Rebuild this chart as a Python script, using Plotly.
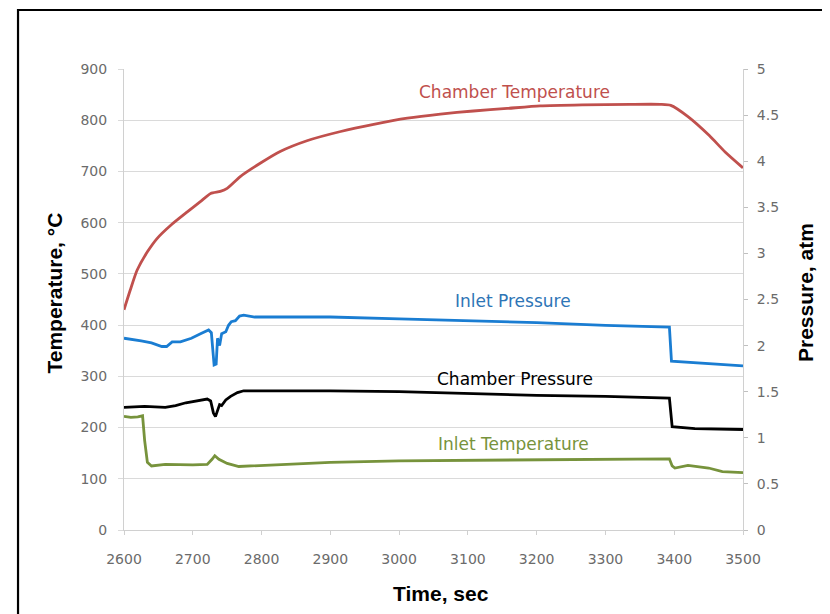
import plotly.graph_objects as go

# ---- data ----
ct_time = [2600, 2609, 2619, 2634, 2648, 2668, 2692, 2711, 2726, 2740, 2750, 2769, 2798,
           2827, 2866, 2915, 2963, 3012, 3060, 3108, 3157, 3205, 3266, 3336, 3380,
           3395, 3420, 3451, 3474, 3500]
ct_temp = [430, 468, 507, 543, 569, 595, 621, 641, 657, 661, 667, 690, 716,
           739, 760, 778, 792, 804, 812, 818, 823, 828, 830, 831, 831,
           829, 807, 770, 738, 707]

ip_time = [2600, 2610, 2625, 2640, 2655, 2662, 2670, 2682, 2698, 2712, 2723, 2727, 2729,
           2731, 2734, 2736, 2739, 2742, 2748, 2752, 2756, 2762, 2768, 2774, 2790, 2900,
           3000, 3100, 3200, 3300, 3393, 3396, 3420, 3460, 3500]
ip_pres = [2.08, 2.07, 2.05, 2.03, 1.99, 1.99, 2.04, 2.04, 2.08, 2.13, 2.17, 2.14, 1.95,
           1.79, 1.80, 2.08, 2.00, 2.13, 2.15, 2.22, 2.26, 2.27, 2.32, 2.33, 2.31, 2.31,
           2.29, 2.27, 2.25, 2.22, 2.20, 1.83, 1.82, 1.80, 1.78]

cp_time = [2600, 2630, 2660, 2675, 2690, 2705, 2721, 2726, 2730, 2733, 2736, 2739, 2742,
           2748, 2755, 2765, 2774, 2900, 3000, 3100, 3200, 3300, 3393, 3397, 3430, 3500]
cp_pres = [1.33, 1.34, 1.33, 1.35, 1.38, 1.40, 1.42, 1.40, 1.27, 1.23, 1.30, 1.36, 1.35,
           1.41, 1.45, 1.49, 1.51, 1.51, 1.50, 1.48, 1.46, 1.45, 1.43, 1.12, 1.10, 1.09]

it_time = [2600, 2610, 2620, 2627, 2630, 2634, 2640, 2660, 2700, 2721, 2728, 2732, 2738,
           2750, 2767, 2800, 2850, 2900, 3000, 3100, 3200, 3300, 3393, 3397, 3401, 3420,
           3450, 3470, 3500]
it_temp = [222, 220, 221, 223, 175, 132, 125, 128, 127, 128, 138, 145, 138,
           130, 124, 126, 129, 132, 135, 136, 138, 139, 139, 125, 121, 126,
           121, 114, 112]

x_ticks = [2600, 2700, 2800, 2900, 3000, 3100, 3200, 3300, 3400, 3500]
y1_ticks = [0, 100, 200, 300, 400, 500, 600, 700, 800, 900]
y2_ticks = [0, 0.5, 1, 1.5, 2, 2.5, 3, 3.5, 4, 4.5, 5]
y2_labels = ["0", "0.5", "1", "1.5", "2", "2.5", "3", "3.5", "4", "4.5", "5"]

labels = ["Chamber Temperature", "Inlet Pressure", "Chamber Pressure", "Inlet Temperature"]
label_x = [3168, 3166, 3168, 3167]
label_y = [855, 448, 295, 167]

RED = "#C0504D"
BLUE = "#1A7DD2"
BLACK = "#000000"
GREEN = "#77933C"
label_colors = [RED, "#2E75B6", BLACK, GREEN]

fig = go.Figure()
fig.add_trace(go.Scatter(x=ct_time, y=ct_temp, mode="lines",
                         line=dict(color=RED, width=2.8, shape="spline", smoothing=0.6),
                         name=labels[0], yaxis="y"))
fig.add_trace(go.Scatter(x=ip_time, y=ip_pres, mode="lines", line=dict(color=BLUE, width=2.8),
                         name=labels[1], yaxis="y2"))
fig.add_trace(go.Scatter(x=cp_time, y=cp_pres, mode="lines", line=dict(color=BLACK, width=2.8),
                         name=labels[2], yaxis="y2"))
fig.add_trace(go.Scatter(x=it_time, y=it_temp, mode="lines", line=dict(color=GREEN, width=2.8),
                         name=labels[3], yaxis="y"))

tick_font = dict(family="DejaVu Sans", size=14, color="#6b6b6b")
title_font = dict(family="Liberation Sans, Arial", size=21, color="#000000")

annotations = []
for txt, xx, yy, cc in zip(labels, label_x, label_y, label_colors):
    annotations.append(dict(x=xx, y=yy, xref="x", yref="y", text=txt, showarrow=False,
                            font=dict(family="DejaVu Sans", size=17, color=cc)))
annotations += [
    dict(x=0.512, y=-0.137, xref="paper", yref="paper", text="<b>Time, sec</b>",
         showarrow=False, font=title_font, xanchor="center", yanchor="middle"),
    dict(x=-0.113, y=0.513, xref="paper", yref="paper", text="<b>Temperature, °C</b>",
         showarrow=False, font=title_font, textangle=-90, xanchor="center", yanchor="middle"),
    dict(x=1.100, y=0.516, xref="paper", yref="paper", text="<b>Pressure, atm</b>",
         showarrow=False, font=title_font, textangle=-90, xanchor="center", yanchor="middle"),
]

fig.update_layout(
    width=822, height=606,
    margin=dict(l=116, r=87, t=61, b=84),
    paper_bgcolor="white", plot_bgcolor="white",
    showlegend=False,
    xaxis=dict(range=[2600, 3500], tickvals=x_ticks, showgrid=False, showline=True,
               linecolor="#D0D0D0", linewidth=1, ticks="outside", ticklen=4,
               tickcolor="#D0D0D0", tickfont=tick_font, ticklabelstandoff=12, zeroline=False),
    yaxis=dict(range=[0, 900], tickvals=y1_ticks, showgrid=True, gridcolor="#DADADA",
               gridwidth=1, showline=True, linecolor="#D0D0D0", linewidth=1,
               ticks="outside", ticklen=5, tickcolor="#DADADA", tickfont=tick_font,
               ticklabelstandoff=8, zeroline=False),
    yaxis2=dict(range=[0, 5], tickvals=y2_ticks, ticktext=y2_labels, overlaying="y",
                side="right", showgrid=False, showline=True, linecolor="#D0D0D0",
                linewidth=1, ticks="outside", ticklen=4, tickcolor="#C0C0C0",
                tickfont=tick_font, ticklabelstandoff=6, zeroline=False),
    annotations=annotations,
    shapes=[dict(type="path", xref="paper", yref="paper",
                 path="M -0.1712,-0.4 L -0.1712,1.128 L 1.3,1.128",
                 line=dict(color="black", width=2.2))],
)

fig.write_html("out.html")
